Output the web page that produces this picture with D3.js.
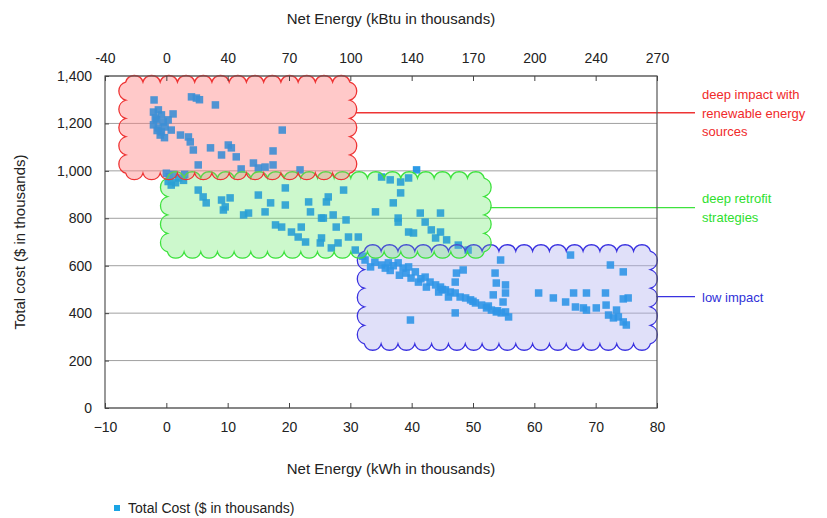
<!DOCTYPE html>
<html>
<head>
<meta charset="utf-8">
<script src="https://cdn.jsdelivr.net/npm/d3@7"></script>
<style>
  body { margin: 0; background: #fff; }
  svg { font-family: "Liberation Sans", Arial, sans-serif; }
  .tick text { font-size: 14px; fill: #222; }
  .domain { display: none; }
</style>
</head>
<body>
<div class="app"></div>
<script>
'use strict'

// Net energy (kWh in thousands) for each project
var netEnergy = [
  -2.0, 4.1, 4.9, 5.4, 8.0, 1.1, -2.1, -1.3, -0.8, -1.6, -0.5, -2.1, -1.3, -0.8, -1.8, -0.2, -1.0, 0.3, -1.5, -0.3,
  0.8, 2.3, 3.6, 3.9, 4.4, 7.2, 9.0, 10.1, 10.6, 11.4, 5.2, 14.2, 15.0, 16.1, 17.4, 17.4, 18.9, 12.2, 21.8,
  0.0, 0.5, 1.2, 2.0, 0.3, 1.5, 2.8, 0.8, 3.0,
  5.2, 6.0, 6.5, 9.0, 9.6, 10.4, 9.3, 12.6, 13.4, 15.0, 17.0, 16.1, 19.4, 19.4, 17.8, 18.8, 20.4, 21.5, 23.2, 23.5,
  22.7, 25.1, 22.0, 25.3, 26.4, 26.1, 28.9, 35.1, 36.5, 38.2, 39.5, 40.8, 38.2, 37.0, 34.1, 37.8, 37.8, 41.4, 44.7,
  42.2, 39.5, 40.3, 43.2, 44.7, 43.9, 45.7, 27.2, 25.6, 29.3, 27.7, 31.3, 29.7, 25.3, 28.0, 26.9, 30.8, 47.6, 49.2,
  32.4, 33.3, 32.0, 35.1, 35.7, 36.2, 37.8, 38.6, 39.5, 39.1, 39.9, 40.6, 41.1, 42.2, 43.0, 43.9, 44.7, 45.5, 46.3,
  47.1, 47.9, 48.8, 49.6, 50.4, 51.4, 52.2, 53.0, 53.8, 54.6, 55.8, 55.3, 42.4, 44.4, 46.0, 47.1, 48.4, 47.3, 53.6,
  53.8, 55.3, 55.3, 54.9, 53.3, 54.5, 39.8, 47.1, 36.5, 38.0, 41.5, 45.0, 50.0, 52.5, 54.0, 37.0, 34.0,
  65.9, 72.4, 74.5, 60.7, 63.1, 65.1, 66.4, 68.5, 66.7, 68.0, 68.5, 70.1, 71.6, 71.7, 72.1, 72.9, 73.7, 74.5, 75.0,
  74.5, 75.3, 73.4
];

// Total cost ($ in thousands), same order
var totalCost = [
  1299, 1312, 1307, 1300, 1278, 1240, 1248, 1257, 1236, 1215, 1206, 1194, 1181, 1164, 1223, 1185, 1151, 1215, 1170, 1140,
  1172, 1151, 1143, 1122, 1088, 1097, 1067, 1109, 1097, 1059, 1025, 1033, 1012, 1016, 1025, 1084, 1172, 1008, 1004,
  990, 975, 985, 970, 955, 950, 960, 940, 985,
  919, 890, 865, 877, 848, 886, 835, 814, 822, 898, 865, 827, 856, 928, 772, 763, 742, 721, 869, 827,
  700, 696, 763, 801, 890, 869, 919, 974, 962, 953, 970, 1004, 907, 865, 827, 801, 784, 822, 822,
  784, 742, 738, 751, 742, 717, 709, 814, 801, 793, 763, 721, 721, 717, 696, 675, 666, 687, 666,
  624, 595, 640, 603, 590, 612, 612, 590, 595, 569, 548, 574, 531, 552, 531, 519, 510, 498, 489,
  485, 468, 464, 456, 443, 434, 422, 413, 405, 401, 384, 405, 510, 489, 468, 531, 582, 569, 569,
  527, 519, 485, 447, 477, 624, 371, 401, 580, 560, 545, 500, 450, 430, 410, 600, 615,
  645, 603, 574, 485, 464, 447, 485, 485, 426, 422, 413, 422, 485, 434, 392, 380, 384, 363, 350,
  460, 464, 413
];

// Подписи осей
var kwhTicks = [-10, 0, 10, 20, 30, 40, 50, 60, 70, 80];
var kbtuLabels = ["-40", "0", "40", "70", "100", "140", "170", "200", "240", "270"];
var costTicks = [0, 200, 400, 600, 800, 1000, 1200, 1400];

// Облака-группы: [x от, x до, cost от, cost до] в единицах данных
var groupNames = ["low impact", "deep retrofit", "deep impact"];
var groupExtent = [
  [31.3, 79.9, 245, 687],
  [-0.8, 52.8, 633, 995],
  [-7.6, 30.9, 965, 1400]
];
var groupLabels = [
  ["low impact"],
  ["deep retrofit", "strategies"],
  ["deep impact with", "renewable energy", "sources"]
];
var groupLabelCost = [470, 845, 1245];

var colors = {
  stroke: ["#3a32e0", "#3ee23e", "#ee3434"],
  fill: ["#b4b4f2", "#86f086", "#ff8a8a"],
  fillOpacity: [0.28, 0.3, 0.35],
  text: ["#3030d8", "#2ee02e", "#f02a2a"]
};

var width = 827, height = 518;
var plot = { left: 105, right: 657, top: 76, bottom: 408 };

var x = d3.scaleLinear().domain([-10, 80]).range([plot.left, plot.right]);
var y = d3.scaleLinear().domain([0, 1400]).range([plot.bottom, plot.top]);

var svg = d3.select(".app").append("svg")
  .attr("width", width)
  .attr("height", height);

// Горизонтальные линии сетки
svg.append("g")
  .selectAll("line")
  .data(costTicks)
  .join("line")
  .attr("x1", plot.left).attr("x2", plot.right)
  .attr("y1", d => y(d)).attr("y2", d => y(d))
  .attr("stroke", "#a0a0a0")
  .attr("stroke-width", 1);

// Контур облака из дуг
function cloudPath(x0, y0, x1, y1) {
  var b = 6;
  var ix0 = x0 + b, iy0 = y0 + b, ix1 = x1 - b, iy1 = y1 - b;
  var target = 17;
  var p = "M" + ix0 + "," + iy0;
  function edge(ax, ay, bx, by) {
    var len = Math.hypot(bx - ax, by - ay);
    var n = Math.max(1, Math.round(len / target));
    var r = (len / n) * 0.52;
    for (var k = 1; k <= n; k++) {
      var px = ax + (bx - ax) * k / n, py = ay + (by - ay) * k / n;
      p += "A" + r + "," + r + " 0 0 1 " + px + "," + py;
    }
  }
  edge(ix0, iy0, ix1, iy0);
  edge(ix1, iy0, ix1, iy1);
  edge(ix1, iy1, ix0, iy1);
  edge(ix0, iy1, ix0, iy0);
  return p + "Z";
}

var cloudD = groupExtent.map(g => cloudPath(x(g[0]), y(g[3]), x(g[1]), y(g[2])));

// Заливка облаков под точками
svg.append("g")
  .selectAll("path")
  .data(cloudD)
  .join("path")
  .attr("d", d => d)
  .attr("fill", (d, i) => colors.fill[i])
  .attr("fill-opacity", (d, i) => colors.fillOpacity[i]);

// Точки
var points = netEnergy.map((d, i) => ({ e: d, c: totalCost[i] }));
var sq = 7.5;
svg.append("g")
  .selectAll("rect")
  .data(points)
  .join("rect")
  .attr("x", d => x(d.e) - sq / 2)
  .attr("y", d => y(d.c) - sq / 2)
  .attr("width", sq).attr("height", sq)
  .attr("fill", "#1690e4")
  .attr("fill-opacity", 0.9);

// Лёгкий оттенок облака поверх точек и контур
svg.append("g")
  .selectAll("path")
  .data(cloudD)
  .join("path")
  .attr("d", d => d)
  .attr("fill", (d, i) => colors.fill[i])
  .attr("fill-opacity", 0.17)
  .attr("stroke", (d, i) => colors.stroke[i])
  .attr("stroke-width", 1.3);

// Выноски
var labelX = 702, lineEnd = 695;
groupExtent.forEach((g, i) => {
  var ly = y(groupLabelCost[i]);
  svg.append("line")
    .attr("x1", x(g[1])).attr("x2", lineEnd)
    .attr("y1", ly).attr("y2", ly)
    .attr("stroke", colors.stroke[i])
    .attr("stroke-width", 1.3);
  var lines = groupLabels[i];
  var t = svg.append("text")
    .attr("x", labelX)
    .attr("font-size", 13)
    .attr("fill", colors.text[i]);
  lines.forEach((s, k) => {
    t.append("tspan")
      .attr("x", labelX)
      .attr("y", ly + 5 + (k - (lines.length - 1) / 2) * 18.5)
      .text(s);
  });
});

// Рамка
svg.append("rect")
  .attr("x", plot.left).attr("y", plot.top)
  .attr("width", plot.right - plot.left).attr("height", plot.bottom - plot.top)
  .attr("fill", "none")
  .attr("stroke", "#555")
  .attr("stroke-width", 1.2);

// Ось X снизу
svg.append("g")
  .attr("transform", "translate(0," + plot.bottom + ")")
  .call(d3.axisBottom(x).tickValues(kwhTicks).tickSize(-5).tickPadding(14).tickFormat(d3.format("d")))
  .call(g => g.selectAll(".tick line").attr("stroke", "#444"));

// Ось X сверху (kBtu)
svg.append("g")
  .attr("transform", "translate(0," + plot.top + ")")
  .call(d3.axisTop(x).tickValues(kwhTicks).tickSize(-5).tickPadding(13).tickFormat((d, i) => kbtuLabels[i]))
  .call(g => g.selectAll(".tick line").attr("stroke", "#444"));

// Ось Y
svg.append("g")
  .attr("transform", "translate(" + plot.left + ",0)")
  .call(d3.axisLeft(y).tickValues(costTicks).tickSize(-4).tickPadding(13).tickFormat(d3.format(",")))
  .call(g => g.selectAll(".tick line").attr("stroke", "#444"));

// Заголовки осей
svg.append("text")
  .attr("x", 391).attr("y", 24)
  .attr("text-anchor", "middle")
  .attr("font-size", 15).attr("fill", "#222")
  .text("Net Energy (kBtu in thousands)");

svg.append("text")
  .attr("x", 391).attr("y", 474)
  .attr("text-anchor", "middle")
  .attr("font-size", 15).attr("fill", "#222")
  .text("Net Energy (kWh in thousands)");

svg.append("text")
  .attr("transform", "translate(25,242) rotate(-90)")
  .attr("text-anchor", "middle")
  .attr("font-size", 15).attr("fill", "#222")
  .text("Total cost ($ in thousands)");

// Легенда
svg.append("rect")
  .attr("x", 114).attr("y", 505)
  .attr("width", 6).attr("height", 6)
  .attr("fill", "#1aa4e4");

svg.append("text")
  .attr("x", 128).attr("y", 513)
  .attr("font-size", 14).attr("fill", "#222")
  .text("Total Cost ($ in thousands)");
</script>
</body>
</html>
